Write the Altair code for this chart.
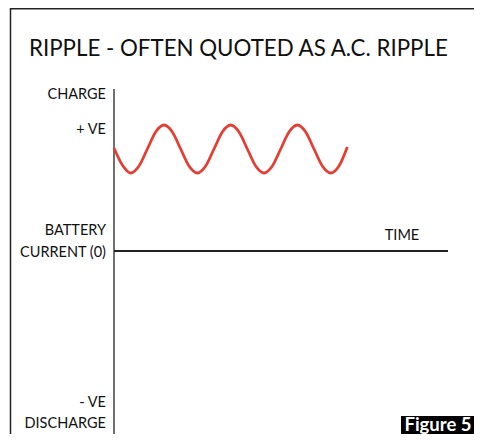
import altair as alt
import pandas as pd

# --- data ---
# time in ripple cycles (t = 0 at the vertical axis)
ripple_t = [0, 0.125, 0.25, 0.375, 0.5, 0.625, 0.75, 0.875,
            1.0, 1.125, 1.25, 1.375, 1.5, 1.625, 1.75, 1.875,
            2.0, 2.125, 2.25, 2.375, 2.5, 2.625, 2.75, 2.875,
            3.0, 3.125, 3.25, 3.375, 3.5]
ripple_i = [10.3, 8.6, 7.8, 8.5, 10.2, 11.9, 12.6, 11.9,
            10.2, 8.5, 7.8, 8.5, 10.2, 11.9, 12.6, 11.9,
            10.2, 8.5, 7.8, 8.5, 10.2, 11.9, 12.6, 11.9,
            10.2, 8.5, 7.8, 8.5, 10.4]

axis_labels = ["CHARGE", "+ VE", "BATTERY", "CURRENT (0)", "- VE", "DISCHARGE"]
axis_label_i = [15.6, 12.1, 2.0, -0.2, -15.2, -17.3]

current_axis_i = [16.2, -18.3]   # vertical axis extent (charge .. discharge)
time_axis_t = [0, 5.01]          # horizontal axis extent
time_label = ["TIME"]
time_label_t = [4.32]
time_label_i = [1.55]

title_text = "RIPPLE - OFTEN QUOTED AS A.C. RIPPLE"
figure_text = "Figure 5"

X_DOMAIN = [-1.59, 5.40]
Y_DOMAIN = [-18.3, 24.3]
xs = alt.Scale(domain=X_DOMAIN, nice=False, zero=False)
ys = alt.Scale(domain=Y_DOMAIN, nice=False, zero=False)

FONT = "Lato"
W = 466
H = 426

ripple_df = pd.DataFrame({"t": ripple_t, "i": ripple_i})
labels_df = pd.DataFrame({"label": axis_labels, "i": axis_label_i})
vaxis_df = pd.DataFrame({"t": [0], "i": [current_axis_i[0]], "i2": [current_axis_i[1]]})
haxis_df = pd.DataFrame({"t": [time_axis_t[0]], "t2": [time_axis_t[1]], "i": [0]})
time_df = pd.DataFrame({"label": time_label, "t": time_label_t, "i": time_label_i})
one = pd.DataFrame({"a": [0]})

# outer frame: only its left and top sides fall inside the picture
frame = alt.Chart(one).mark_rect(fill=None, stroke="#222", strokeWidth=1.5).encode(
    x=alt.value(2.5), x2=alt.value(W + 30), y=alt.value(0.75), y2=alt.value(H + 30))

title = alt.Chart(one).mark_text(
    text=title_text, align="left", baseline="alphabetic",
    font=FONT, fontSize=22.3, color="#111").encode(
    x=alt.value(21), y=alt.value(48))

vaxis = alt.Chart(vaxis_df).mark_rule(color="#222", strokeWidth=1.3).encode(
    x=alt.X("t:Q", scale=xs, axis=None),
    y=alt.Y("i:Q", scale=ys, axis=None), y2="i2:Q")
haxis = alt.Chart(haxis_df).mark_rule(color="#222", strokeWidth=2).encode(
    x=alt.X("t:Q", scale=xs, axis=None), x2="t2:Q",
    y=alt.Y("i:Q", scale=ys, axis=None))

ripple = alt.Chart(ripple_df).mark_line(
    color="#E53E33", strokeWidth=2.8, interpolate="monotone").encode(
    x=alt.X("t:Q", scale=xs, axis=None),
    y=alt.Y("i:Q", scale=ys, axis=None))

labels = alt.Chart(labels_df).mark_text(
    align="right", baseline="middle", font=FONT, fontSize=14.5, color="#111").encode(
    x=alt.value(98),
    y=alt.Y("i:Q", scale=ys, axis=None),
    text="label:N")

tlabel = alt.Chart(time_df).mark_text(
    align="center", baseline="middle", font=FONT, fontSize=14.5, color="#111").encode(
    x=alt.X("t:Q", scale=xs, axis=None),
    y=alt.Y("i:Q", scale=ys, axis=None),
    text="label:N")

fig_box = alt.Chart(one).mark_rect(color="#000").encode(
    x=alt.value(393), x2=alt.value(W), y=alt.value(408), y2=alt.value(H))
fig_text = alt.Chart(one).mark_text(
    text=figure_text, align="center", baseline="alphabetic",
    font="Lato", fontWeight="bold", fontSize=18.5, color="#fff").encode(
    x=alt.value(430), y=alt.value(423))

chart = alt.layer(
    frame, title, haxis, vaxis, ripple, labels, tlabel, fig_box, fig_text
).properties(
    width=W, height=H,
    autosize=alt.AutoSizeParams(type="none"),
    padding=0,
    background="#ffffff",
).configure_view(stroke=None)

chart.save("out.html", embed_options={"renderer": "svg", "actions": False})
